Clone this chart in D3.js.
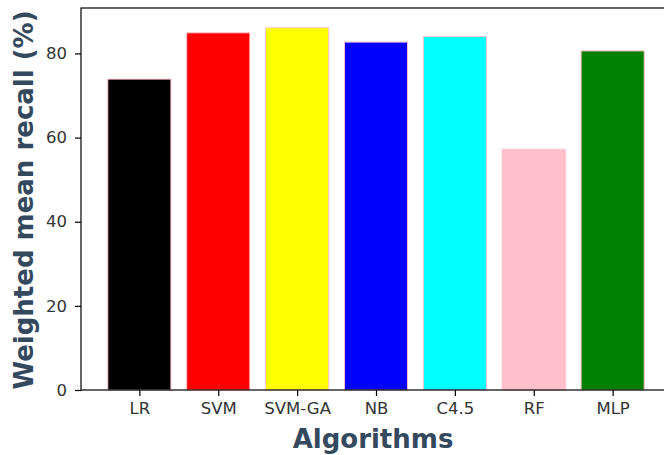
<!DOCTYPE html>
<html>
<head>
<meta charset="utf-8">
<script src="https://cdn.jsdelivr.net/npm/d3@7"></script>
<style>
html,body{margin:0;padding:0;background:#fff;}
svg{display:block;font-family:"DejaVu Sans",sans-serif;}
</style>
</head>
<body>
<svg id="chart" width="664" height="455"></svg>
<script>
const categories = ["LR", "SVM", "SVM-GA", "NB", "C4.5", "RF", "MLP"];
const recall = [73.9, 84.9, 86.1, 82.7, 84.0, 57.2, 80.6];
const barColors = ["black", "red", "yellow", "blue", "cyan", "pink", "green"];
const yTicks = [0, 20, 40, 60, 80];

const svg = d3.select("#chart");
const plotLeft = 81, plotRight = 671, plotTop = 8, plotBottom = 390;

const x = d3.scaleLinear().domain([-0.74, 6.74]).range([plotLeft, plotRight]);
const y = d3.scaleLinear().domain([0, 90.8]).range([plotBottom, plotTop]);
const bw = x(0.8) - x(0);

svg.append("g").selectAll("rect")
  .data(categories)
  .join("rect")
  .attr("x", (d, i) => x(i - 0.4))
  .attr("y", (d, i) => y(recall[i]))
  .attr("width", bw)
  .attr("height", (d, i) => y(0) - y(recall[i]))
  .attr("fill", (d, i) => barColors[i])
  .attr("stroke", "pink")
  .attr("stroke-width", 1);

// spines
svg.append("rect")
  .attr("x", plotLeft).attr("y", plotTop)
  .attr("width", plotRight - plotLeft).attr("height", plotBottom - plotTop)
  .attr("fill", "none").attr("stroke", "#000").attr("stroke-width", 1.2);

const xAxis = svg.append("g").attr("transform", `translate(0,${plotBottom})`)
  .call(d3.axisBottom(x).tickValues(d3.range(categories.length)).tickFormat(i => categories[i]).tickSize(6).tickPadding(6));
const yAxis = svg.append("g").attr("transform", `translate(${plotLeft},0)`)
  .call(d3.axisLeft(y).tickValues(yTicks).tickSize(6).tickPadding(8));
[xAxis, yAxis].forEach(g => {
  g.select(".domain").remove();
  g.selectAll("line").attr("stroke", "#000").attr("stroke-width", 1.2);
  g.selectAll("text").attr("fill", "#333").style("font-size", "16.5px").style("font-family", "DejaVu Sans");
});

svg.append("text")
  .attr("x", 373).attr("y", 448)
  .attr("text-anchor", "middle")
  .attr("fill", "#34495e")
  .style("font-size", "26px").style("font-weight", "bold")
  .text("Algorithms");

svg.append("text")
  .attr("transform", `translate(33,200) rotate(-90)`)
  .attr("text-anchor", "middle")
  .attr("fill", "#34495e")
  .style("font-size", "26px").style("font-weight", "bold")
  .text("Weighted mean recall (%)");
</script>
</body>
</html>
